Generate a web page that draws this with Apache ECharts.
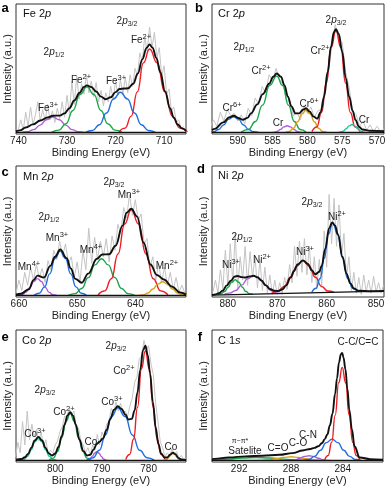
<!DOCTYPE html>
<html><head><meta charset="utf-8">
<script src="https://cdn.jsdelivr.net/npm/echarts@6/dist/echarts.min.js"></script>
<style>html,body{margin:0;padding:0;background:#fff}#c{width:392px;height:490px}</style>
</head><body><div id="c"></div>
<script>
// ---------- tick labels ----------
const feTicks = [740, 730, 720, 710];
const crTicks = [590, 585, 580, 575, 570];
const mnTicks = [660, 650, 640];
const niTicks = [880, 870, 860, 850];
const coTicks = [800, 790, 780];
const cTicks = [292, 288, 284];

// ---------- Fe 2p ----------
const feRawStart = 740, feRawStep = -0.5;
const feRaw = [3,10,2,16,5,20,6,14,24,9, 18,9,22,10,17,8,19,11,24,12, 29,15,40,22,44,26,38,30,45,31,
  40,28,39,24,33,21,31,24,36,26, 40,29,41,30,43,31,45,36,50,44, 62,55,75,63,82,66,78,58,66,44, 52,30,34,17,20,8,10,3,5];
const fePurple = [[726.3,0.1],[727.62,0.7],[728.94,2.4],[730.26,5.9],[731.58,10.1],[732.9,12.1],[734.22,10.1],[735.54,5.9],[736.86,2.4],[738.18,0.7],[739.5,0.1]];
const feGreen = [[718.7,0.4],[720.14,2.0],[721.58,7.0],[723.02,17.3],[724.46,29.7],[725.9,35.6],[727.34,29.7],[728.78,17.3],[730.22,7.0],[731.66,2.0],[733.1,0.4]];
const feBlue = [[711.8,0.35],[713.24,1.76],[714.68,6.2],[716.12,15.3],[717.56,26.2],[719,31.4],[720.44,26.2],[721.88,15.3],[723.32,6.2],[724.76,1.76],[726.2,0.35]];
const feRed = [[705.2,0.7],[706.76,3.6],[708.32,12.9],[709.88,31.7],[711.44,54.3],[713,65],[714.26,54.3],[715.52,31.7],[716.78,12.9],[718.04,3.6],[719.3,0.7]];
const feEnv = [[705.5,1.5],[706.4,3.6],[707.2,6.4],[708,11.5],[708.8,19],[709.8,32],[710.8,47],[711.6,58],[712.4,66],[713,68.5],[713.6,66],[714.5,57],[715.4,46],[716.4,38],[717.4,34.5],[718.2,34.3],[719.2,34],[720,31.5],[721,27.5],[722,26],[723,28],[724,32],[725,35.5],[725.9,36.8],[726.5,35.5],[727.4,31],[728.5,25],[729.5,19],[730.5,15],[731.5,13.3],[732.9,13.2],[734,11.8],[735.5,9.5],[737,6.5],[738.5,4],[739.7,1.8],[740.5,1]];
const feBase = [[705.5,0.3],[740.5,0.3]];

// ---------- Cr 2p ----------
const crRawStart = 594, crRawStep = -0.5;
const crRaw = [3,10,5,16,9,18,13,15,9,14, 7,19,13,27,22,36,31,45,40,50, 41,38,25,24,13,16,10,21,15,20,
  12,17,18,33,45,68,84,73,70,47, 35,17,14,5,9,2,6,1,5,1, 3];
const crBlue = [[587.0,0.14],[587.72,0.69],[588.44,2.46],[589.16,6.0],[589.88,10.4],[590.6,12.4],[591.32,10.4],[592.04,6.0],[592.76,2.46],[593.48,0.69],[594.2,0.14]];
const crGreen = [[580.2,0.5],[581.04,2.5],[581.88,8.7],[582.72,21.4],[583.56,36.7],[584.4,44],[585.42,36.7],[586.44,21.4],[587.46,8.7],[588.48,2.5],[589.5,0.5]];
const crPurple = [[580.5,0.06],[580.98,0.3],[581.46,1.07],[581.94,2.63],[582.42,4.5],[582.9,5.4],[583.38,4.5],[583.86,2.63],[584.34,1.07],[584.82,0.3],[585.3,0.06]];
const crOrange = [[577.2,0.19],[577.8,0.98],[578.4,3.47],[579.0,8.5],[579.6,14.6],[580.2,17.5],[580.8,14.6],[581.4,8.5],[582.0,3.47],[582.6,0.98],[583.2,0.19]];
const crRed = [[572.45,0.87],[573.14,4.4],[573.83,15.7],[574.52,38.7],[575.21,66.3],[575.9,79.4],[576.59,66.3],[577.28,38.7],[577.97,15.7],[578.66,4.4],[579.35,0.87]];
const crTeal = [[571.5,0.07],[571.92,0.36],[572.34,1.27],[572.76,3.1],[573.18,5.3],[573.6,6.4],[574.02,5.3],[574.44,3.1],[574.86,1.27],[575.28,0.36],[575.7,0.07]];
const crEnv = [[569,1.2],[571,1.5],[572.1,2.5],[572.6,4.6],[573.1,10],[573.5,17],[574,28],[574.5,42.6],[575,63],[575.5,76.7],[575.9,80.5],[576.2,78],[576.6,67],[577.1,47],[577.6,28],[578.1,16],[578.6,11],[579.1,12.5],[579.7,16.5],[580.2,19],[580.6,18],[581.2,15],[581.7,15],[582.3,20.5],[582.8,28],[583.3,37],[583.8,43.5],[584.4,46],[584.9,43.5],[585.5,38],[586.4,30],[587.2,22],[588.1,15],[588.6,11.5],[589.3,10],[589.8,11.2],[590.6,13.2],[591.2,12],[592.1,8],[593.3,3],[593.7,2]];
const crBase = [[569,0.3],[593.7,0.3]];

// ---------- Mn 2p ----------
const mnRawStart = 660.5, mnRawStep = -0.5;
const mnRaw = [2,12,4,18,8,22,12,24,14,21, 10,27,20,35,28,42,30,40,25,30, 14,26,10,35,20,52,25,45,28,42,
  30,44,26,46,35,55,48,68,60,78, 62,74,58,63,40,44,22,30,12,25, 10,22,8,18,5,14,3,8,2];
const mnPurple = [[653.5,0.15],[654.16,0.74],[654.82,2.6],[655.48,6.4],[656.14,11.0],[656.8,13.2],[657.46,11.0],[658.12,6.4],[658.78,2.6],[659.44,0.74],[660.1,0.15]];
const mnBlue = [[648.4,0.38],[649.3,1.93],[650.2,6.8],[651.1,16.8],[652.0,28.7],[652.9,34.4],[653.8,28.7],[654.7,16.8],[655.6,6.8],[656.5,1.93],[657.4,0.38]];
const mnGreen = [[640.1,0.31],[641.24,1.6],[642.38,5.6],[643.52,13.9],[644.66,23.8],[645.8,28.5],[646.94,23.8],[648.08,13.9],[649.22,5.6],[650.36,1.6],[651.5,0.31]];
const mnRed = [[634.4,0.73],[635.66,3.7],[636.92,13.1],[638.18,32.2],[639.44,55.3],[640.7,66.2],[641.84,55.3],[642.98,32.2],[644.12,13.1],[645.26,3.7],[646.4,0.73]];
const mnOrange = [[631.1,0.12],[631.94,0.6],[632.78,2.1],[633.62,5.2],[634.46,8.9],[635.3,10.7],[636.14,8.9],[636.98,5.2],[637.82,2.1],[638.66,0.6],[639.5,0.12]];
const mnEnv = [[631.3,0.8],[632.3,2.5],[633.7,7],[635.1,12.5],[636.3,16],[637.4,24],[638.6,41],[639.7,61],[640.7,67],[641.5,64],[642.2,54],[643.4,38.5],[644.5,32],[645.7,31.8],[646.6,28.5],[648.1,17],[649.2,10],[650.3,13],[651.1,21],[651.8,29],[652.9,35.6],[653.8,30],[654.6,23],[655.7,14],[656.8,15.5],[657.5,12],[658.3,5],[659.7,1.5],[660.5,0.8]];
const mnBase = [[631.3,0.3],[660.5,0.3]];

// ---------- Ni 2p ----------
const niRawStart = 883, niRawStep = -0.5;
const niRaw = [3,12,2,20,5,35,8,40,10,48, 5,30,12,38,8,34,14,30,6,28, 4,22,2,16,1,12,1,10,2,14,
  5,24,10,38,15,42,18,44,16,38, 10,30,5,28,8,50,22,78,40,75, 38,70,30,48,14,30,4,18,2,14, 1,16,3,12,2,15,3,10,2,8];
const niGreen = [[874.9,1.0],[875.62,1.5],[876.34,3.2],[877.06,6.5],[877.78,10.4],[878.5,12.3],[879.22,10.4],[879.94,6.5],[880.66,3.2],[881.38,1.5],[882.1,1.0]];
const niPurple = [[868.8,1.6],[870,2.0],[871.2,4.05],[872.4,8.15],[873.6,13.05],[874.8,15.4],[876,13.05],[877.2,8.15],[878.4,4.05],[879.6,2.0],[880.8,0.9]];
const niRed = [[858.5,2.8],[859.76,3.6],[861.02,7.1],[862.28,14.2],[863.54,22.8],[864.8,26.9],[866.06,22.8],[867.32,14.2],[868.58,7.1],[869.84,3.6],[871.1,1.8]];
const niBlue = [[853.7,3.3],[854.72,5.7],[855.74,13.3],[856.76,28.9],[857.78,47.5],[858.8,56.4],[859.64,47.5],[860.48,28.9],[861.32,13.3],[862.16,5.7],[863.0,2.6]];
const niEnv = [[848.4,3.6],[851,3.4],[853.5,3.8],[854.5,5.5],[855.2,9.5],[856,17],[856.8,30],[857.7,47],[858.3,54],[858.9,56.4],[859.5,52],[860.3,36],[861,23],[861.5,18.5],[862.3,16.5],[863,19.5],[863.8,24.5],[864.8,27.2],[865.9,24],[866.6,19],[867.3,14],[868.2,8],[868.9,5],[869.8,3.6],[870.6,3.8],[871.5,5.2],[872.3,8],[873.2,11.7],[874,14.3],[874.8,15.4],[875.6,14.9],[876.4,14],[877.2,14.3],[878,15.2],[878.6,14.8],[879.4,11.5],[880.2,8],[881,4],[881.8,2],[882.5,1],[883.2,0.5]];
const niBase = [[848.4,3.6],[883.2,0.5]];

// ---------- Co 2p ----------
const coRawStart = 808.5, coRawStep = -0.5;
const coRaw = [3,14,6,30,12,38,16,28,18,24, 15,22,10,16,5,8,6,12,15,22, 26,34,34,40,35,38,26,25,15,12,
  6,10,4,12,8,20,12,22,18,28, 30,40,36,45,38,44,36,38,34,42, 48,60,64,78,80,92,85,88,74,66, 44,30,14,10,3,6,4,9,5,7, 2,4,1,2];
const coTeal = [[799.7,0.19],[800.48,0.96],[801.26,3.4],[802.04,8.4],[802.82,14.4],[803.6,17.2],[804.38,14.4],[805.16,8.4],[805.94,3.4],[806.72,0.96],[807.5,0.19]];
const coGreen = [[792.3,0.4],[793.2,2.0],[794.1,7.1],[795.0,17.5],[795.9,30.1],[796.8,36],[797.7,30.1],[798.6,17.5],[799.5,7.1],[800.4,2.0],[801.3,0.4]];
const coPurple = [[788.7,0.07],[789.18,0.38],[789.66,1.35],[790.14,3.3],[790.62,5.7],[791.1,6.8],[791.58,5.7],[792.06,3.3],[792.54,1.35],[793.02,0.38],[793.5,0.07]];
const coBlue = [[778.8,0.45],[780.36,2.3],[781.92,8.0],[783.48,19.7],[785.04,33.8],[786.6,40.5],[787.92,33.8],[789.24,19.7],[790.56,8.0],[791.88,2.3],[793.2,0.45]];
const coRed = [[776.5,0.92],[777.34,4.7],[778.18,16.6],[779.02,40.9],[779.86,70.1],[780.7,84],[781.54,70.1],[782.38,40.9],[783.22,16.6],[784.06,4.7],[784.9,0.92]];
const coOrange = [[772.7,0.06],[773.12,0.31],[773.54,1.1],[773.96,2.7],[774.38,4.7],[774.8,5.6],[775.22,4.7],[775.64,2.7],[776.06,1.1],[776.48,0.31],[776.9,0.06]];
const coEnv = [[772,0.5],[773,1],[773.6,2],[774.3,5],[774.8,6.2],[775.4,4.6],[776,2.5],[776.6,2.5],[777.3,5.3],[777.9,12.5],[778.5,25.5],[779.1,45],[779.7,67],[780.2,81],[780.7,88],[781.2,84.5],[781.8,69.5],[782.4,52],[783,38.5],[783.6,32],[784.3,31.5],[785,35.4],[785.8,39.6],[786.6,41.6],[787.4,39],[788.2,32],[789,23.5],[789.8,17],[790.5,14.5],[791.1,12.8],[791.8,8.5],[792.5,4.5],[793.2,4],[794,7.5],[794.8,16],[795.6,27.5],[796.2,34.5],[796.8,37.2],[797.4,34.5],[798,27.5],[798.6,19],[799.3,10.5],[800,5.5],[800.7,4],[801.4,5.6],[802.1,10],[802.8,15.5],[803.6,18.2],[804.4,15.5],[805.1,10],[805.8,5.2],[806.5,2.6],[807.3,1.3],[808.4,0.8]];
const coBase = [[772,0.3],[808.4,0.3]];

// ---------- C 1s ----------
const cRed = [[282.7,0.79],[282.97,4.0],[283.24,14.1],[283.51,34.8],[283.78,59.6],[284.05,71.4],[284.32,59.6],[284.59,34.8],[284.86,14.1],[285.13,4.0],[285.4,0.79]];
const cBlue = [[282.58,0.18],[283.03,0.92],[283.48,3.27],[283.93,8.0],[284.38,13.8],[284.83,16.5],[285.28,13.8],[285.73,8.0],[286.18,3.27],[286.63,0.92],[287.08,0.18]];
const cPurple = [[284.8,0.04],[285.16,0.21],[285.52,0.75],[285.88,1.85],[286.24,3.2],[286.6,3.8],[286.96,3.2],[287.32,1.85],[287.68,0.75],[288.04,0.21],[288.4,0.04]];
const cOrange = [[285,0.03],[285.6,0.17],[286.2,0.6],[286.8,1.46],[287.4,2.5],[288,3],[288.6,2.5],[289.2,1.46],[289.8,0.6],[290.4,0.17],[291,0.03]];
const cGreen = [[285.3,0.03],[286.38,0.14],[287.46,0.5],[288.54,1.2],[289.62,2.1],[290.7,2.5],[291.78,2.1],[292.86,1.2],[293.94,0.5],[295.02,0.14],[296.1,0.03]];
const cEnv = [[280.9,0.8],[281.9,1.2],[282.7,2.5],[283.1,11],[283.3,24],[283.5,39],[283.65,55],[283.8,70],[283.95,79],[284.05,82.5],[284.15,81.5],[284.3,75],[284.45,63],[284.6,51],[284.8,36],[285,27],[285.2,20],[285.4,16.5],[285.6,13.5],[285.9,11],[286.2,9.8],[286.5,9],[287.1,7.8],[287.9,5.8],[288.9,4.5],[290.2,3.8],[291.5,3.3],[292.8,2.5],[293.9,1.4],[294.1,1.2]];
const cBase = [[280.9,0.3],[294.1,0.3]];

// ---------- styling / layout ----------
const F = 'Liberation Sans, Arial, Helvetica, sans-serif';
const RED = '#ee1d23', GREEN = '#1aa64a', BLUE = '#1e6fe0', PURPLE = '#b05fd8', ORANGE = '#d9a41a', TEAL = '#1ec79d', GRAY = '#c4c4c4';

const panels = [
  {grid:{left:16, top:4, width:170, height:130}, min:705.5, max:740.5, ticks:feTicks,
   raw:feRaw, rs:feRawStart, rst:feRawStep, env:feEnv, base:feBase,
   comps:[[fePurple,PURPLE],[feGreen,GREEN],[feBlue,BLUE],[feRed,RED]]},
  {grid:{left:212, top:4, width:172, height:130}, min:569, max:593.7, ticks:crTicks,
   raw:crRaw, rs:crRawStart, rst:crRawStep, env:crEnv, base:crBase,
   comps:[[crBlue,BLUE],[crGreen,GREEN],[crPurple,PURPLE],[crOrange,ORANGE],[crRed,RED],[crTeal,TEAL]]},
  {grid:{left:16, top:166, width:170, height:131}, min:631.3, max:660.5, ticks:mnTicks,
   raw:mnRaw, rs:mnRawStart, rst:mnRawStep, env:mnEnv, base:mnBase,
   comps:[[mnPurple,PURPLE],[mnBlue,BLUE],[mnGreen,GREEN],[mnRed,RED],[mnOrange,ORANGE]]},
  {grid:{left:212, top:166, width:172, height:131}, min:848.4, max:883.2, ticks:niTicks,
   raw:niRaw, rs:niRawStart, rst:niRawStep, env:niEnv, base:niBase,
   comps:[[niGreen,GREEN],[niPurple,PURPLE],[niRed,RED],[niBlue,BLUE]]},
  {grid:{left:16, top:330, width:170, height:132}, min:772, max:808.4, ticks:coTicks,
   raw:coRaw, rs:coRawStart, rst:coRawStep, env:coEnv, base:coBase,
   comps:[[coTeal,TEAL],[coGreen,GREEN],[coPurple,PURPLE],[coBlue,BLUE],[coRed,RED],[coOrange,ORANGE]]},
  {grid:{left:212, top:330, width:171, height:132}, min:280.9, max:294.1, ticks:cTicks,
   raw:null, env:cEnv, base:cBase,
   comps:[[cGreen,GREEN],[cOrange,ORANGE],[cPurple,PURPLE],[cBlue,BLUE],[cRed,RED]]}
];

const grids = [], xAxes = [], yAxes = [], series = [];
panels.forEach((p, i) => {
  grids.push(Object.assign({show:true, borderColor:'#333', borderWidth:1, backgroundColor:'transparent'}, p.grid));
  xAxes.push({gridIndex:i, type:'value', inverse:true, min:p.min, max:p.max,
    axisLine:{show:false}, axisTick:{show:false}, splitLine:{show:false},
    axisLabel:{customValues:p.ticks, fontSize:10, color:'#222', fontFamily:F, margin:2},
    name:'Binding Energy (eV)', nameLocation:'middle', nameGap:13,
    nameTextStyle:{fontSize:11, color:'#222', fontFamily:F}});
  yAxes.push({gridIndex:i, type:'value', min:-1, max:100,
    axisLine:{show:false}, axisTick:{show:false}, axisLabel:{show:false}, splitLine:{show:false},
    name:'Intensity (a.u.)', nameLocation:'middle', nameGap:3, nameRotate:90,
    nameTextStyle:{fontSize:11, color:'#222', fontFamily:F}});
  const mk = (data, color, width, z, smooth) => ({type:'line', xAxisIndex:i, yAxisIndex:i, data,
    symbol:'none', showSymbol:false, smooth:smooth, smoothMonotone: smooth ? 'x' : null,
    lineStyle:{color, width}, z, silent:true, animation:false});
  if (p.raw) series.push(mk(p.raw.map((v, k) => [p.rs + k * p.rst, v]), GRAY, 1, 1, false));
  p.comps.forEach(c => series.push(mk(c[0], c[1], 1.4, 3, 0.5)));
  series.push(mk(p.base, '#111', 1.2, 4, false));
  series.push(mk(p.env, '#111', 1.9, 5, 0.4));
});

// ---------- annotations ----------
const rich = {
  n:{fontSize:10, fontFamily:F, fill:'#222', lineHeight:14},
  i:{fontSize:10, fontFamily:F, fontStyle:'italic', fill:'#222', lineHeight:14},
  s:{fontSize:7.5, fontFamily:F, fill:'#222', lineHeight:7, verticalAlign:'top'},
  b:{fontSize:7, fontFamily:F, fill:'#222', lineHeight:7, verticalAlign:'bottom'},
  t:{fontSize:11, fontFamily:F, fill:'#111', lineHeight:14},
  ti:{fontSize:11, fontFamily:F, fontStyle:'italic', fill:'#111', lineHeight:14},
  g:{fontSize:7, fontFamily:F, fill:'#222', lineHeight:9}
};
const ion = (el, ch) => '{n|' + el + '}{s|' + ch + '}';
const orb = (fr) => '{n|2}{i|p}{b|' + fr + '}';
const graphics = [];
const txt = (x, y, text, align) => graphics.push({type:'text', x, y, z:100, silent:true,
  style:{text, rich, align: align || 'center', verticalAlign:'middle'}});
const letter = (x, y, t) => graphics.push({type:'text', x, y, z:100, silent:true,
  style:{text:t, font:'bold 13px ' + F, fill:'#000', align:'center', verticalAlign:'middle'}});

// a
letter(5, 8, 'a'); txt(23, 14, '{t|Fe 2}{ti|p}', 'left');
txt(127, 21, orb('3/2')); txt(54, 52, orb('1/2'));
txt(141, 40, ion('Fe','2+')); txt(116, 81, ion('Fe','3+')); txt(81, 80, ion('Fe','2+')); txt(48, 108, ion('Fe','3+'));
// b
letter(199, 8, 'b'); txt(218, 14, '{t|Cr 2}{ti|p}', 'left');
txt(336, 20, orb('3/2')); txt(244, 47, orb('1/2'));
txt(320, 51, ion('Cr','2+')); txt(261, 71, ion('Cr','2+')); txt(309, 104, ion('Cr','6+')); txt(232, 108, ion('Cr','6+'));
txt(278, 123, '{n|Cr}'); txt(364, 120, '{n|Cr}');
// c
letter(5, 172, 'c'); txt(23, 177, '{t|Mn 2}{ti|p}', 'left');
txt(114, 182, orb('3/2')); txt(49, 217, orb('1/2'));
txt(129, 195, ion('Mn','3+')); txt(57, 238, ion('Mn','3+')); txt(91, 250, ion('Mn','4+')); txt(29, 267, ion('Mn','4+')); txt(167, 266, ion('Mn','2+'));
// d
letter(201, 169, 'd'); txt(218, 176, '{t|Ni 2}{ti|p}', 'left');
txt(312, 202, orb('3/2')); txt(242, 237, orb('1/2'));
txt(337, 217, ion('Ni','2+')); txt(305, 252, ion('Ni','3+')); txt(262, 260, ion('Ni','2+')); txt(231, 265, ion('Ni','3+'));
// e
letter(5, 337, 'e'); txt(22, 341, '{t|Co 2}{ti|p}', 'left');
txt(116, 346, orb('3/2')); txt(45, 390, orb('3/2'));
txt(124, 371, ion('Co','2+')); txt(64, 412, ion('Co','2+')); txt(112, 402, ion('Co','3+')); txt(35, 434, ion('Co','3+'));
txt(91, 442, '{n|Co}'); txt(171, 447, '{n|Co}');
// f
letter(200, 337, 'f'); txt(218, 341, '{t|C 1}{ti|s}', 'left');
txt(358, 342, '{n|C-C/C=C}'); txt(308, 435, '{n|C-N}'); txt(298, 443, '{n|C-O}'); txt(278, 448, '{n|C=O}');
txt(240, 441, '{g|π−π*}'); txt(245, 451, '{n|Satelite}');

const chart = echarts.init(document.getElementById('c'), null, {renderer:'canvas'});
chart.setOption({animation:false, backgroundColor:'#fff', grid:grids, xAxis:xAxes, yAxis:yAxes, series, graphic:graphics});
</script></body></html>
